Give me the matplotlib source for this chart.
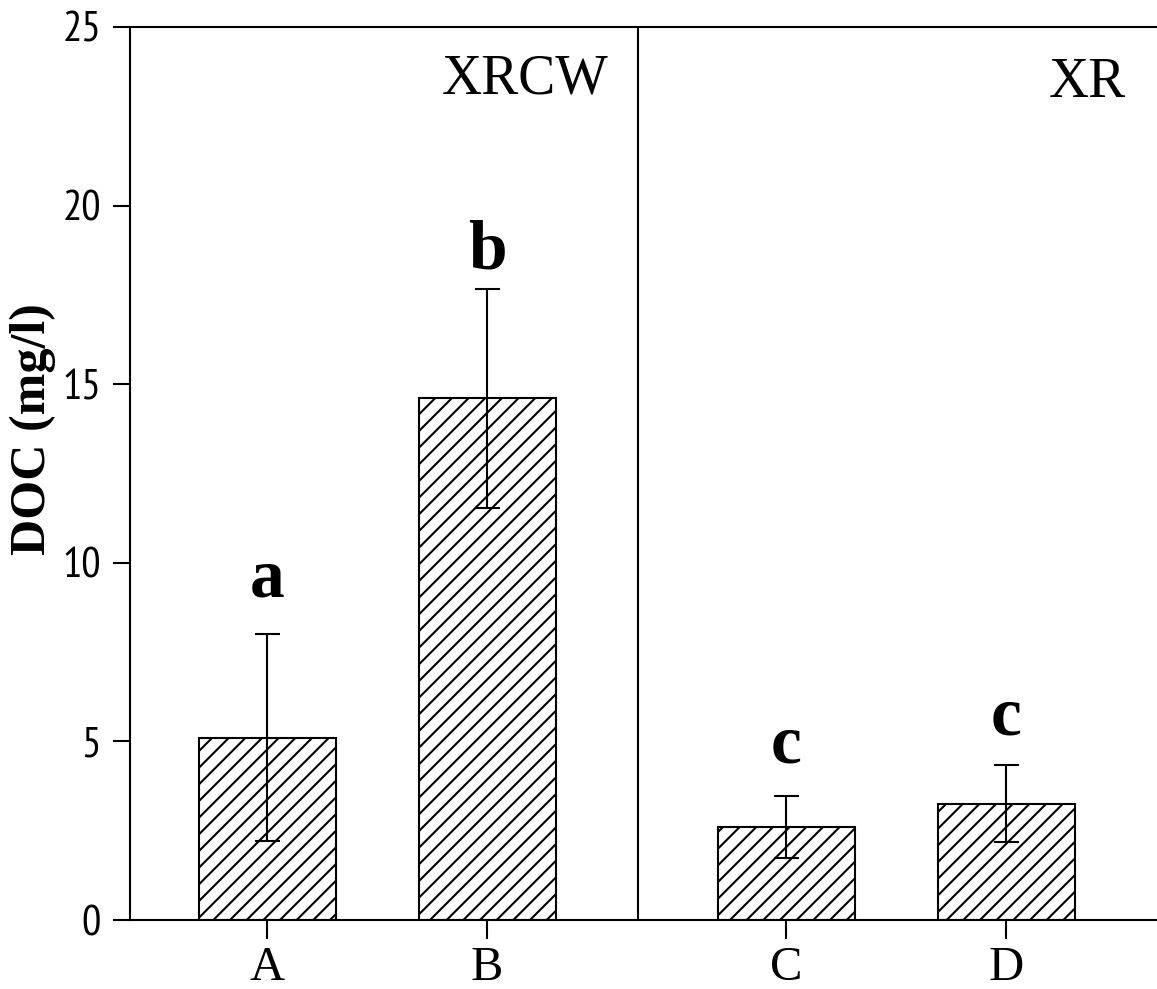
import matplotlib.pyplot as plt

# data
groups = ['A', 'B', 'C', 'D']
doc_mean = [5.1, 14.6, 2.6, 3.25]
doc_err = [2.9, 3.07, 0.86, 1.08]
letters = ['a', 'b', 'c', 'c']
panel_names = ['XRCW', 'XR']

# layout
xpos = [0, 1, 2.36, 3.36]
letter_y = [9.05, 18.25, 4.42, 5.18]
divider_x = 1.686

plt.rcParams['hatch.linewidth'] = 1.5
serif = 'Liberation Serif'
tick_font = ['PT Sans Narrow', 'DejaVu Sans']

fig = plt.figure(figsize=(11.57, 9.89), dpi=100)
ax = fig.add_axes([130 / 1157, 69 / 989, 1027 / 1157, 893 / 989])

ax.bar(xpos, doc_mean, width=0.623, color='white', edgecolor='black',
       linewidth=1.5, hatch='//', zorder=2)
ax.errorbar(xpos, doc_mean, yerr=doc_err, fmt='none', ecolor='black',
            elinewidth=1.5, capsize=9, capthick=1.5, zorder=3)

for x, y, s in zip(xpos, letter_y, letters):
    ax.text(x, y, s, ha='center', va='baseline', fontsize=50,
            fontfamily=serif, fontweight='bold')

ax.axvline(divider_x, color='black', linewidth=1.5)
ax.text(1.55, 23.15, panel_names[0], ha='right', va='baseline',
        fontsize=40, fontfamily=serif)
ax.text(3.905, 23.05, panel_names[1], ha='right', va='baseline',
        fontsize=40, fontfamily=serif)

ax.set_xlim(-0.623, 4.045)
ax.set_ylim(0, 25)
ax.set_yticks([0, 5, 10, 15, 20, 25])
ax.set_xticks(xpos)
ax.set_xticklabels(groups, fontsize=35, fontfamily=serif)
for lab in ax.get_yticklabels():
    lab.set_fontfamily(tick_font)
    lab.set_fontsize(31)
ax.tick_params(axis='y', direction='out', length=12, width=1.5, pad=9)
ax.tick_params(axis='x', direction='out', length=14, width=1.5, pad=5)

ax.set_ylabel('DOC (mg/l)', fontsize=36, fontfamily=serif, fontweight='bold')
ax.yaxis.set_label_coords(-0.072, 0.55)

ax.spines['right'].set_visible(False)
for side in ['left', 'top', 'bottom']:
    ax.spines[side].set_linewidth(1.5)

fig.savefig('out.png', dpi=100)
